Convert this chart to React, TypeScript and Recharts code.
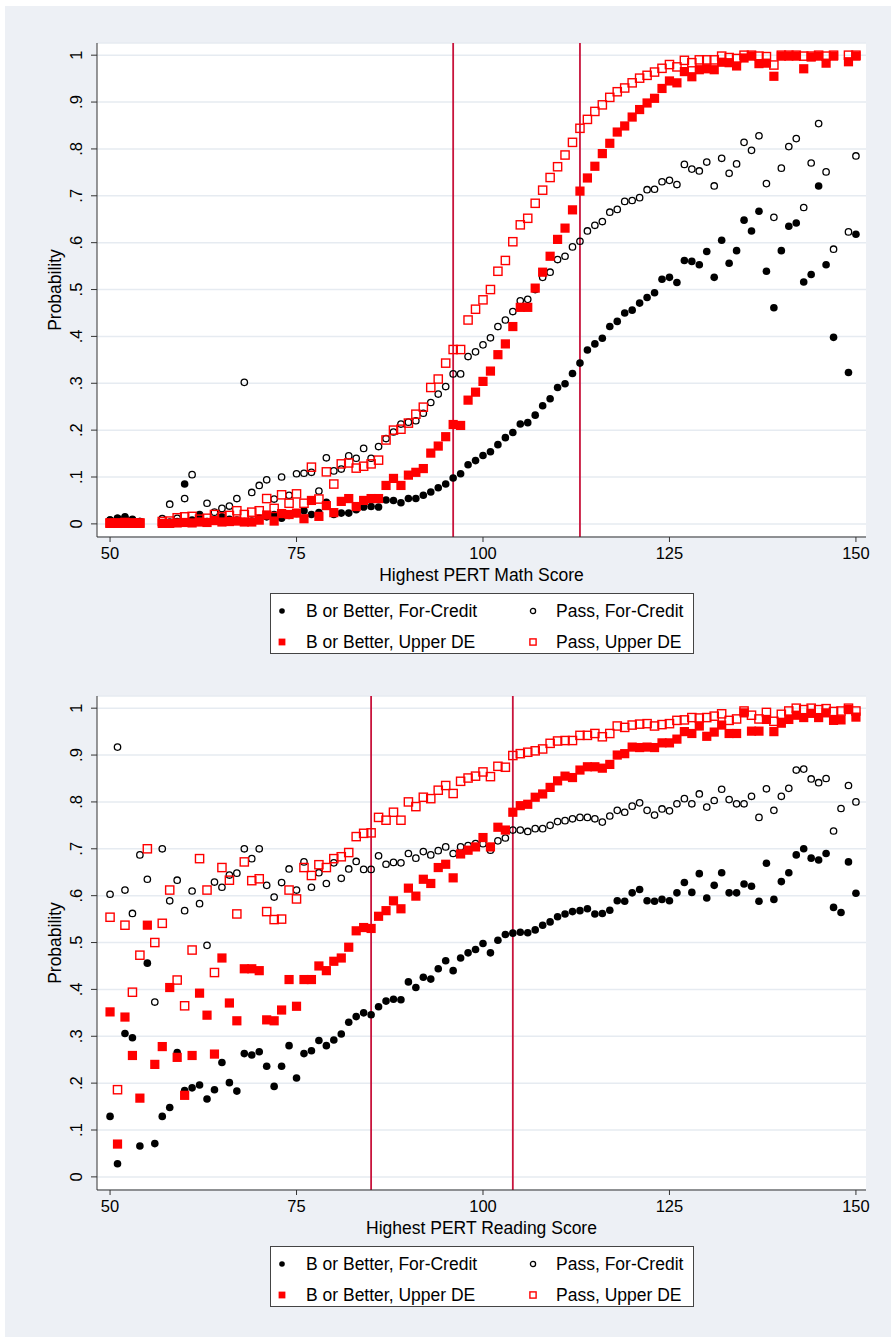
import React from "react";
import {
  ScatterChart,
  Scatter,
  XAxis,
  YAxis,
  CartesianGrid,
  ReferenceLine,
} from "recharts";

// PERT score (x) for every column of the value arrays below
const SCORES = [
  50, 51, 52, 53, 54, 55, 56, 57, 58, 59,
  60, 61, 62, 63, 64, 65, 66, 67, 68, 69,
  70, 71, 72, 73, 74, 75, 76, 77, 78, 79,
  80, 81, 82, 83, 84, 85, 86, 87, 88, 89,
  90, 91, 92, 93, 94, 95, 96, 97, 98, 99,
  100, 101, 102, 103, 104, 105, 106, 107, 108, 109,
  110, 111, 112, 113, 114, 115, 116, 117, 118, 119,
  120, 121, 122, 123, 124, 125, 126, 127, 128, 129,
  130, 131, 132, 133, 134, 135, 136, 137, 138, 139,
  140, 141, 142, 143, 144, 145, 146, 147, 148, 149,
  150,
];

// Math panel
const mathBetterCredit = [
  0.008, 0.012, 0.015, 0.01, 0.005, null, null, 0.002, 0.004, 0.005,
  0.085, 0.008, 0.018, 0.005, 0.006, 0.015, 0.01, 0.008, 0.005, 0.006,
  0.012, 0.015, 0.02, 0.012, 0.018, 0.022, 0.028, 0.02, 0.024, 0.046,
  0.02, 0.023, 0.023, 0.03, 0.036, 0.037, 0.036, 0.051, 0.05, 0.045,
  0.054, 0.054, 0.061, 0.068, 0.077, 0.085, 0.098, 0.107, 0.126, 0.135,
  0.146, 0.154, 0.169, 0.184, 0.195, 0.213, 0.216, 0.232, 0.252, 0.267,
  0.291, 0.299, 0.321, 0.343, 0.371, 0.384, 0.396, 0.421, 0.432, 0.45,
  0.456, 0.471, 0.483, 0.493, 0.522, 0.526, 0.515, 0.562, 0.56, 0.553,
  0.581, 0.526, 0.605, 0.556, 0.583, 0.648, 0.625, 0.667, 0.539, 0.461,
  0.583, 0.635, 0.642, 0.516, 0.532, 0.721, 0.553, 0.398, null, 0.323,
  0.618,
];
const mathPassCredit = [
  0.008, 0.012, 0.012, 0.008, 0.005, null, null, 0.011, 0.042, 0.012,
  0.054, 0.105, 0.02, 0.044, 0.025, 0.033, 0.038, 0.054, 0.302, 0.067,
  0.082, 0.094, 0.053, 0.1, 0.061, 0.107, 0.108, 0.11, 0.07, 0.141,
  0.113, 0.117, 0.145, 0.14, 0.161, 0.14, 0.165, 0.182, 0.196, 0.213,
  0.217, 0.22, 0.236, 0.259, 0.277, 0.293, 0.32, 0.32, 0.357, 0.367,
  0.382, 0.397, 0.421, 0.435, 0.453, 0.476, 0.479, 0.5, 0.526, 0.537,
  0.564, 0.571, 0.591, 0.603, 0.625, 0.637, 0.645, 0.665, 0.671, 0.688,
  0.69, 0.696, 0.713, 0.714, 0.73, 0.733, 0.724, 0.767, 0.757, 0.753,
  0.772, 0.721, 0.78, 0.748, 0.768, 0.814, 0.797, 0.828, 0.726, 0.654,
  0.759, 0.805, 0.822, 0.675, 0.77, 0.854, 0.751, 0.586, null, 0.623,
  0.785,
];
const mathBetterUpper = [
  0.001, 0.001, 0.001, 0.001, 0.001, null, null, 0.001, 0.001, 0.002,
  0.003, 0.002, 0.004, 0.003, 0.007, 0.004, 0.005, 0.006, 0.004, 0.004,
  0.008, 0.019, 0.006, 0.022, 0.02, 0.023, 0.011, 0.05, 0.016, 0.039,
  0.024, 0.048, 0.054, 0.037, 0.05, 0.054, 0.054, 0.082, 0.097, 0.082,
  0.104, 0.11, 0.118, 0.151, 0.166, 0.186, 0.212, 0.21, 0.264, 0.281,
  0.304, 0.326, 0.361, 0.384, 0.421, 0.462, 0.462, 0.503, 0.537, 0.571,
  0.607, 0.631, 0.67, 0.71, 0.738, 0.763, 0.79, 0.812, 0.836, 0.849,
  0.868, 0.884, 0.898, 0.908, 0.929, 0.945, 0.941, 0.965, 0.954, 0.969,
  0.971, 0.969, 0.985, 0.984, 0.977, 0.994, 0.998, 0.982, 0.983, 0.955,
  0.998, 0.998, 0.998, 0.971, 0.996, 0.998, 0.983, 0.998, null, 0.986,
  0.998,
];
const mathPassUpper = [
  0.002, 0.002, 0.003, 0.002, 0.002, null, null, 0.005, 0.006, 0.013,
  0.015, 0.016, 0.01, 0.012, 0.02, 0.015, 0.018, 0.028, 0.02, 0.025,
  0.028, 0.054, 0.033, 0.062, 0.044, 0.064, 0.044, 0.121, 0.053, 0.111,
  0.085, 0.128, 0.13, 0.119, 0.123, 0.128, 0.136, 0.179, 0.2, 0.202,
  0.215, 0.234, 0.249, 0.291, 0.309, 0.343, 0.372, 0.372, 0.435, 0.458,
  0.478, 0.5, 0.539, 0.562, 0.602, 0.638, 0.652, 0.684, 0.712, 0.739,
  0.762, 0.787, 0.814, 0.844, 0.863, 0.88, 0.894, 0.91, 0.922, 0.93,
  0.941, 0.951, 0.957, 0.964, 0.972, 0.98, 0.975, 0.989, 0.984, 0.99,
  0.99, 0.99, 0.998, 0.995, 0.993, 1, 1, 0.998, 0.997, 0.979,
  1, 1, 1, 0.998, 0.998, 1, 0.998, 1, null, 1,
  1,
];

// Reading panel
const readBetterCredit = [
  0.129, 0.028, 0.306, 0.297, 0.066, 0.456, 0.071, 0.129, 0.148, 0.265,
  0.184, 0.19, 0.196, 0.166, 0.186, 0.244, 0.201, 0.183, 0.263, 0.26,
  0.267, 0.236, 0.193, 0.236, 0.28, 0.211, 0.263, 0.269, 0.291, 0.28,
  0.292, 0.305, 0.33, 0.342, 0.35, 0.346, 0.363, 0.375, 0.379, 0.378,
  0.416, 0.404, 0.426, 0.422, 0.444, 0.461, 0.44, 0.467, 0.478, 0.485,
  0.498, 0.478, 0.505, 0.517, 0.52, 0.522, 0.521, 0.527, 0.537, 0.544,
  0.555, 0.561, 0.566, 0.568, 0.572, 0.561, 0.562, 0.569, 0.589, 0.588,
  0.606, 0.613, 0.589, 0.588, 0.592, 0.589, 0.606, 0.628, 0.607, 0.647,
  0.595, 0.622, 0.649, 0.606, 0.606, 0.625, 0.62, 0.588, 0.669, 0.592,
  0.63, 0.649, 0.687, 0.7, 0.68, 0.676, 0.69, 0.575, 0.564, 0.672,
  0.605,
];
const readPassCredit = [
  0.603, 0.917, 0.612, 0.562, 0.687, 0.635, 0.373, 0.7, 0.589, 0.633,
  0.568, 0.61, 0.583, 0.494, 0.629, 0.618, 0.644, 0.648, 0.7, 0.679,
  0.7, 0.622, 0.597, 0.628, 0.657, 0.612, 0.672, 0.618, 0.649, 0.626,
  0.67, 0.637, 0.657, 0.673, 0.656, 0.656, 0.685, 0.667, 0.671, 0.67,
  0.69, 0.68, 0.694, 0.687, 0.696, 0.704, 0.69, 0.704, 0.707, 0.711,
  0.711, 0.697, 0.717, 0.723, 0.74, 0.74, 0.737, 0.743, 0.743, 0.75,
  0.758, 0.76, 0.764, 0.767, 0.767, 0.764, 0.757, 0.77, 0.782, 0.778,
  0.791, 0.798, 0.782, 0.772, 0.785, 0.781, 0.796, 0.807, 0.796, 0.817,
  0.789, 0.803, 0.827, 0.805, 0.796, 0.796, 0.812, 0.767, 0.828, 0.782,
  0.812, 0.829, 0.868, 0.87, 0.849, 0.841, 0.85, 0.738, 0.786, 0.835,
  0.8,
];
const readBetterUpper = [
  0.352, 0.07, 0.341, 0.259, 0.168, 0.537, 0.24, 0.278, 0.404, 0.255,
  0.174, 0.259, 0.392, 0.345, 0.262, 0.467, 0.371, 0.333, 0.444, 0.444,
  0.44, 0.335, 0.333, 0.356, 0.421, 0.364, 0.421, 0.421, 0.45, 0.44,
  0.46, 0.467, 0.49, 0.525, 0.532, 0.53, 0.556, 0.568, 0.589, 0.572,
  0.616, 0.599, 0.635, 0.626, 0.66, 0.667, 0.638, 0.689, 0.697, 0.704,
  0.724, 0.704, 0.746, 0.74, 0.778, 0.792, 0.795, 0.81, 0.817, 0.831,
  0.845, 0.855, 0.852, 0.868, 0.875, 0.875, 0.872, 0.88, 0.9, 0.903,
  0.917, 0.916, 0.917, 0.916, 0.926, 0.926, 0.934, 0.95, 0.946, 0.962,
  0.94, 0.949, 0.964, 0.946, 0.946, 0.99, 0.951, 0.951, 0.976, 0.95,
  0.968, 0.976, 0.985, 0.98, 0.989, 0.98, 0.99, 0.974, 0.975, 0.997,
  0.981,
];
const readPassUpper = [
  0.554, 0.186, 0.537, 0.394, 0.473, 0.7, 0.5, 0.541, 0.612, 0.42,
  0.365, 0.484, 0.679, 0.612, 0.436, 0.66, 0.633, 0.561, 0.672, 0.632,
  0.636, 0.566, 0.549, 0.55, 0.612, 0.593, 0.66, 0.643, 0.666, 0.66,
  0.679, 0.683, 0.692, 0.726, 0.733, 0.734, 0.767, 0.761, 0.778, 0.761,
  0.8, 0.79, 0.81, 0.807, 0.825, 0.835, 0.818, 0.844, 0.851, 0.855,
  0.864, 0.854, 0.876, 0.874, 0.899, 0.903, 0.906, 0.909, 0.913, 0.925,
  0.93, 0.931, 0.931, 0.942, 0.942, 0.946, 0.939, 0.946, 0.962, 0.959,
  0.964, 0.966, 0.967, 0.962, 0.965, 0.967, 0.974, 0.975, 0.98, 0.979,
  0.98, 0.983, 0.988, 0.974, 0.977, 0.994, 0.985, 0.977, 0.991, 0.972,
  0.987, 0.994, 1, 0.997, 1, 0.997, 0.999, 0.993, 0.994, 1,
  0.994,
];

const X_TICKS = [50, 75, 100, 125, 150];
const Y_TICKS = [0, 0.1, 0.2, 0.3, 0.4, 0.5, 0.6, 0.7, 0.8, 0.9, 1];
const Y_TICK_LABELS = ["0", ".1", ".2", ".3", ".4", ".5", ".6", ".7", ".8", ".9", "1"];

const MATH_CUTOFFS = [96, 113];
const READ_CUTOFFS = [85, 104];

const LEGEND = [
  { name: "B or Better, For-Credit", kind: "dot" },
  { name: "Pass, For-Credit", kind: "ring" },
  { name: "B or Better, Upper DE", kind: "square" },
  { name: "Pass, Upper DE", kind: "box" },
];

const FONT = "'Liberation Sans', Arial, Helvetica, sans-serif";
const BG = "#edf0f5";
const GRID = "#e6ebf1";
const CUT = "#c8143c";
const RED = "#ff0000";

const toPoints = (vals: (number | null)[]) =>
  SCORES.map((x, i) => ({ x, y: vals[i] })).filter((p) => p.y !== null);

// marker glyphs; small=true is the legend version
function markerShape(kind: string, cx: number, cy: number, small = false) {
  if (kind === "dot") {
    return <circle cx={cx} cy={cy} r={small ? 2.8 : 3.8} fill="#000" />;
  }
  if (kind === "ring") {
    return (
      <circle cx={cx} cy={cy} r={small ? 2.6 : 3.2} fill="none" stroke="#000" strokeWidth={1.3} />
    );
  }
  if (kind === "square") {
    const h = small ? 3.4 : 4.6;
    return <rect x={cx - h} y={cy - h} width={h * 2} height={h * 2} fill={RED} />;
  }
  const h = small ? 3.1 : 4.1;
  return (
    <rect x={cx - h} y={cy - h} width={h * 2} height={h * 2} fill="none" stroke={RED} strokeWidth={1.4} />
  );
}

const YTick = (props: any) => {
  const { x, y, payload } = props;
  const idx = Y_TICKS.findIndex((t) => Math.abs(t - payload.value) < 1e-6);
  return (
    <text
      x={x}
      y={y}
      transform={`rotate(-90 ${x} ${y})`}
      textAnchor="middle"
      fontSize={16.5}
      fontFamily={FONT}
      fill="#000"
    >
      {idx >= 0 ? Y_TICK_LABELS[idx] : payload.value}
    </text>
  );
};

function Legend() {
  const cols = [11, 262];
  const rows = [17, 48];
  const textLeft = [35, 285];
  return (
    <div
      style={{
        position: "absolute",
        left: 265,
        top: 587,
        width: 424,
        height: 61,
        background: "#fff",
        border: "1px solid #444",
        boxSizing: "border-box",
      }}
    >
      {LEGEND.map((item, i) => {
        const c = i % 2;
        const r = Math.floor(i / 2);
        return (
          <React.Fragment key={item.name}>
            <svg
              width={12}
              height={12}
              style={{ position: "absolute", left: cols[c] - 6, top: rows[r] - 6 }}
            >
              {markerShape(item.kind, 6, 6, true)}
            </svg>
            <div
              style={{
                position: "absolute",
                left: textLeft[c],
                top: rows[r] - 11,
                fontSize: 17.5,
                lineHeight: "22px",
                fontFamily: FONT,
                color: "#000",
                whiteSpace: "nowrap",
              }}
            >
              {item.name}
            </div>
          </React.Fragment>
        );
      })}
    </div>
  );
}

function Panel({ top, xTitle, series, cutoffs }: any) {
  const xTitleLabel = (p: any) => {
    const vb = p.viewBox;
    return (
      <text
        x={vb.x + vb.width / 2}
        y={vb.y + 44}
        textAnchor="middle"
        fontSize={17.5}
        fontFamily={FONT}
        fill="#000"
      >
        {xTitle}
      </text>
    );
  };
  const yTitleLabel = (p: any) => {
    const vb = p.viewBox;
    const tx = vb.x + 24;
    const ty = vb.y + vb.height / 2;
    return (
      <text
        x={tx}
        y={ty}
        transform={`rotate(-90 ${tx} ${ty})`}
        textAnchor="middle"
        fontSize={17.5}
        fontFamily={FONT}
        fill="#000"
      >
        Probability
      </text>
    );
  };

  return (
    <div style={{ position: "absolute", left: 0, top, width: 886, height: 653 }}>
      <ScatterChart
        width={886}
        height={600}
        margin={{ top: 37, right: 25, bottom: 9, left: 32 }}
      >
        <CartesianGrid vertical={false} stroke={GRID} strokeWidth={1.5} fill="#fff" fillOpacity={1} />
        <XAxis
          type="number"
          dataKey="x"
          domain={[48.25, 151.35]}
          ticks={X_TICKS}
          interval={0}
          allowDataOverflow
          height={60}
          tickSize={5}
          tickMargin={5}
          axisLine={{ stroke: "#333" }}
          tickLine={{ stroke: "#333" }}
          tick={{ fill: "#000", fontSize: 16.5, fontFamily: FONT }}
          label={xTitleLabel}
        />
        <YAxis
          type="number"
          dataKey="y"
          domain={[-0.028, 1.026]}
          ticks={Y_TICKS}
          interval={0}
          allowDataOverflow
          width={60}
          tickSize={6}
          tickMargin={9}
          axisLine={{ stroke: "#333" }}
          tickLine={{ stroke: "#333" }}
          tick={<YTick />}
          label={yTitleLabel}
        />
        {cutoffs.map((c: number) => (
          <ReferenceLine key={c} x={c} stroke={CUT} strokeWidth={1.8} />
        ))}
        {series.map((s: any) => (
          <Scatter
            key={s.kind}
            data={toPoints(s.values)}
            isAnimationActive={false}
            shape={(p: any) => markerShape(s.kind, p.cx, p.cy)}
          />
        ))}
      </ScatterChart>
      <Legend />
    </div>
  );
}

export default function App() {
  const mathSeries = [
    { kind: "dot", values: mathBetterCredit },
    { kind: "ring", values: mathPassCredit },
    { kind: "square", values: mathBetterUpper },
    { kind: "box", values: mathPassUpper },
  ];
  const readSeries = [
    { kind: "dot", values: readBetterCredit },
    { kind: "ring", values: readPassCredit },
    { kind: "square", values: readBetterUpper },
    { kind: "box", values: readPassUpper },
  ];
  return (
    <div
      style={{
        position: "absolute",
        left: 5,
        top: 6,
        width: 886,
        height: 1331,
        background: BG,
        fontFamily: FONT,
      }}
    >
      <Panel top={0} xTitle="Highest PERT Math Score" series={mathSeries} cutoffs={MATH_CUTOFFS} />
      <Panel top={653} xTitle="Highest PERT Reading Score" series={readSeries} cutoffs={READ_CUTOFFS} />
    </div>
  );
}
